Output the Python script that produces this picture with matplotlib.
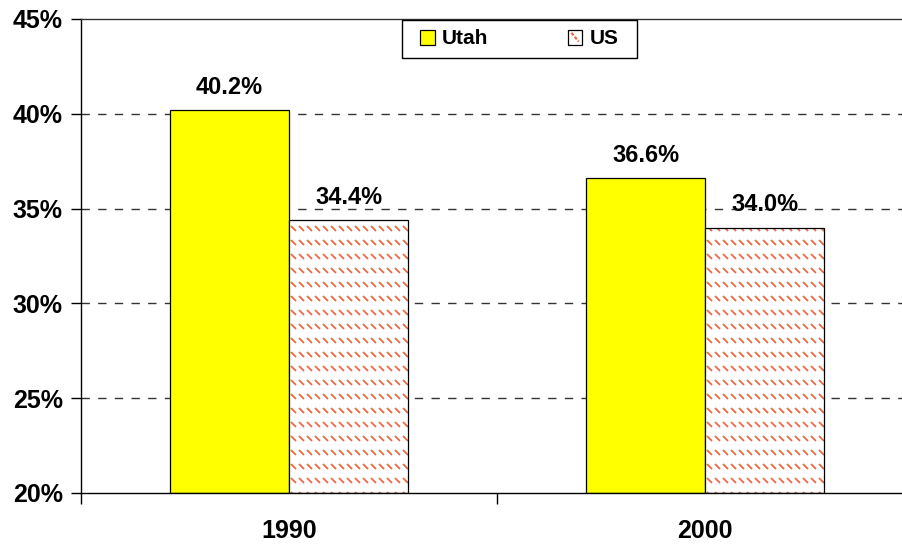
import numpy as np
import matplotlib
matplotlib.use("Agg")
import matplotlib.pyplot as plt
from matplotlib.patches import Rectangle, Patch
from matplotlib.lines import Line2D
from matplotlib.collections import LineCollection
from matplotlib.legend_handler import HandlerBase
from matplotlib.ticker import FixedLocator
from matplotlib.transforms import IdentityTransform

plt.rcParams['font.family'] = ['Liberation Sans', 'DejaVu Sans']
plt.rcParams['font.weight'] = 'bold'

years = ["1990", "2000"]
utah = [40.2, 36.6]
us = [34.4, 34.0]
series_names = ["Utah", "US"]
y_ticks = [20, 25, 30, 35, 40, 45]

UTAH_COLOR = "#FFFF00"
US_DASH = "#EA6A44"

W, H, DPI = 903, 545, 100
fig = plt.figure(figsize=(W / DPI, H / DPI), dpi=DPI)
ax = fig.add_axes([81 / W, 52 / H, 832 / W, 474 / H])

x = np.arange(len(years))
bw = 0.286
ax.set_xlim(-0.5, len(years) - 0.5)
ax.set_ylim(y_ticks[0], y_ticks[-1])

# dashed horizontal grid
for yv in y_ticks[1:-1]:
    ax.axhline(yv, color="#333333", lw=1.0, ls=(0, (6, 6)), zorder=1)

bars_u = ax.bar(x - bw / 2, [v - y_ticks[0] for v in utah], bw, bottom=y_ticks[0],
                color=UTAH_COLOR, edgecolor="black", linewidth=0.9, zorder=2)
bars_s = ax.bar(x + bw / 2, [v - y_ticks[0] for v in us], bw, bottom=y_ticks[0],
                color="white", edgecolor="none", linewidth=0, zorder=2)

# dashed-diagonal fill pattern for the US bars (short strokes in pixel space)
step_x, step_y, stroke = 8, 14, 5
segs = [[(c, r), (c + stroke, r - stroke)]
        for r in np.arange(H - 2, 0, -step_y)
        for c in np.arange(-stroke, W + step_x, step_x)]
for b in bars_s:
    lc = LineCollection(segs, colors=US_DASH, linewidths=1.3,
                        transform=IdentityTransform(), zorder=2.5,
                        capstyle="butt")
    ax.add_collection(lc, autolim=False)
    lc.set_clip_path(b)
ax.bar(x + bw / 2, [v - y_ticks[0] for v in us], bw, bottom=y_ticks[0],
       fill=False, edgecolor="black", linewidth=0.9, zorder=3)

# value labels
for xi, v in zip(x - bw / 2, utah):
    ax.annotate(f"{v:.1f}%", (xi, v), xytext=(0, 8), textcoords="offset points",
                ha="center", va="bottom", fontsize=17, fontweight="bold", zorder=4)
for xi, v in zip(x + bw / 2, us):
    ax.annotate(f"{v:.1f}%", (xi, v), xytext=(0, 8), textcoords="offset points",
                ha="center", va="bottom", fontsize=17, fontweight="bold", zorder=4)

# axes styling
ax.spines["right"].set_visible(False)
ax.spines["top"].set_color("#333333")
for s in ["top", "left", "bottom"]:
    ax.spines[s].set_linewidth(1.0)

ax.yaxis.set_major_locator(FixedLocator(y_ticks))
ax.set_yticklabels([f"{t}%" for t in y_ticks], fontsize=18, fontweight="bold")
ax.tick_params(axis="y", direction="out", length=7, width=1, pad=6)

ax.xaxis.set_major_locator(FixedLocator(x))
ax.set_xticklabels(years, fontsize=18, fontweight="bold")
ax.tick_params(axis="x", length=0, pad=19)
ax.xaxis.set_minor_locator(FixedLocator(np.arange(len(years) + 1) - 0.5))
ax.tick_params(axis="x", which="minor", direction="out", length=8, width=1)


class TextureHandler(HandlerBase):
    """Legend key: white square with one dashed orange diagonal."""
    def create_artists(self, legend, orig_handle, xdescent, ydescent,
                       width, height, fontsize, trans):
        r = Rectangle((-xdescent, -ydescent), width, height, facecolor="white",
                      edgecolor="black", lw=0.9, transform=trans)
        ln = Line2D([-xdescent + width * 0.25, -xdescent + width * 0.75],
                    [-ydescent + height * 0.8, -ydescent + height * 0.2],
                    color=US_DASH, lw=1.6, ls=(0, (1.5, 0.8)), transform=trans)
        return [r, ln]


# legend box frame
ax.add_patch(Rectangle((321 / 832, 435 / 474), 235 / 832, 38 / 474,
                       transform=ax.transAxes, facecolor="white",
                       edgecolor="black", lw=1.0, zorder=5, clip_on=False))

h_utah = Patch(facecolor=UTAH_COLOR, edgecolor="black", lw=0.9)
h_us = Patch(facecolor="white", edgecolor="black")
leg = ax.legend([h_utah, h_us], series_names, loc="center",
                bbox_to_anchor=(438.5 / 832, 454 / 474),
                ncol=2, frameon=False,
                prop={"weight": "bold", "size": 15},
                handlelength=0.7, handleheight=0.7, handletextpad=0.35,
                columnspacing=3.8, borderpad=0, borderaxespad=0,
                handler_map={h_us: TextureHandler()})
leg.set_zorder(6)

fig.savefig("out.png", dpi=DPI)
